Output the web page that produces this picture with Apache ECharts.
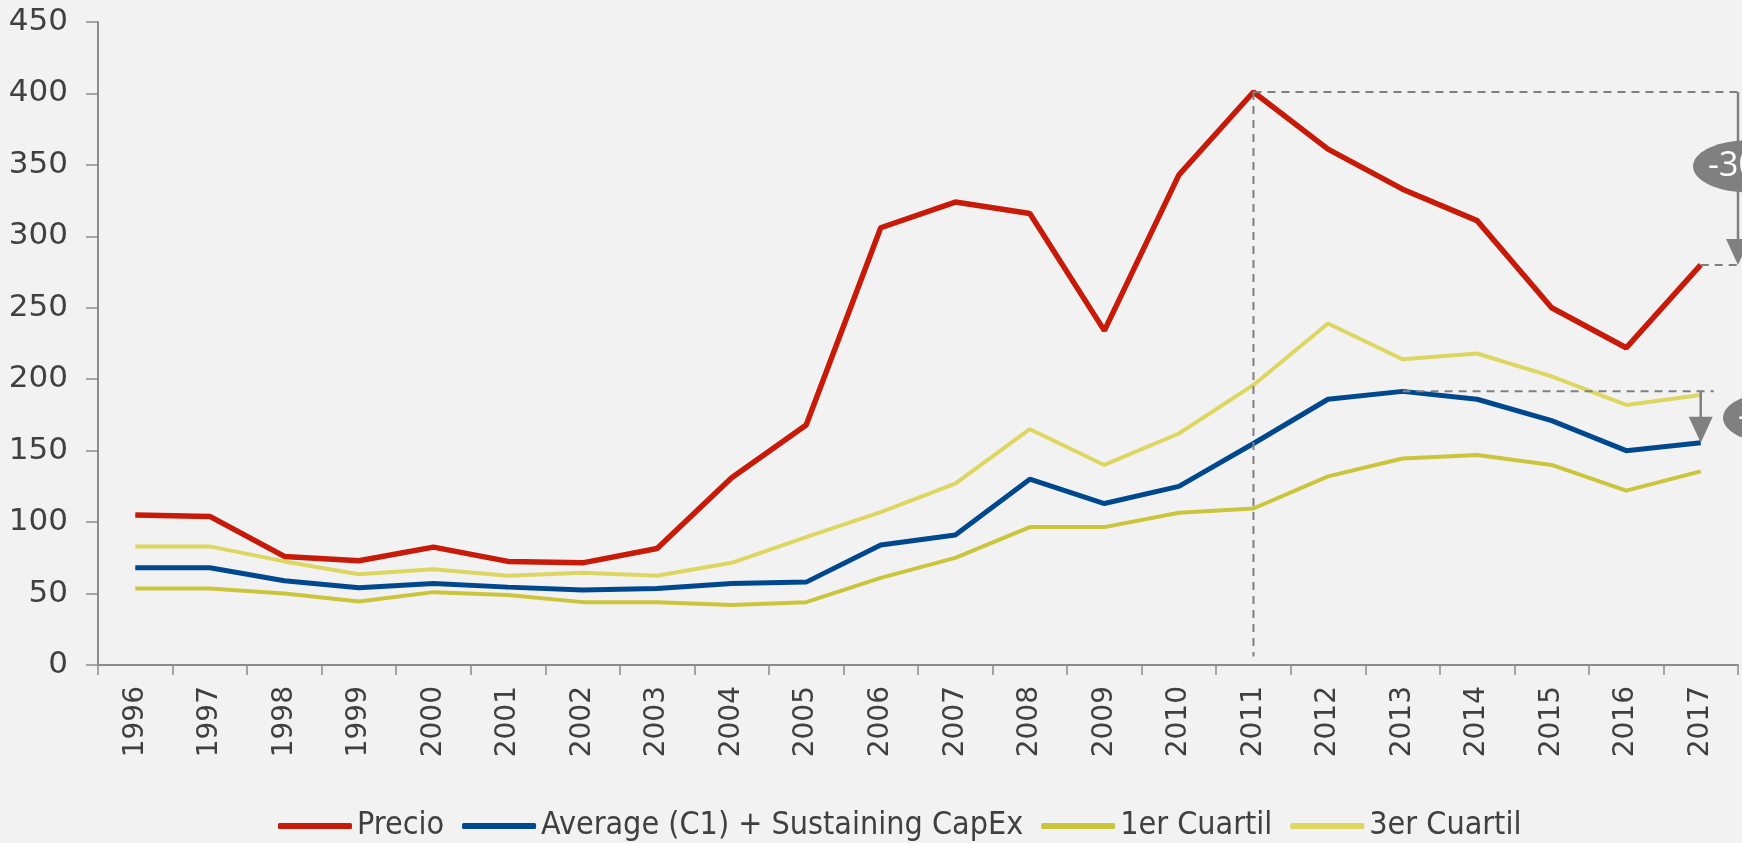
<!DOCTYPE html>
<html>
<head>
<meta charset="utf-8">
<script src="https://cdn.jsdelivr.net/npm/echarts@6/dist/echarts.min.js"></script>
<style>
  html, body { margin: 0; padding: 0; background: #f2f2f2; }
  .kk { width: 1742px; height: 843px; }
</style>
</head>
<body>
<div class="kk"></div>
<script>
var years = ['1996', '1997', '1998', '1999', '2000', '2001', '2002', '2003', '2004', '2005', '2006',
    '2007', '2008', '2009', '2010', '2011', '2012', '2013', '2014', '2015', '2016', '2017'];
var precio = [105, 104, 76, 73, 82.5, 72.5, 71.5, 81.5, 131, 168, 306, 324, 316, 234, 343, 401, 361, 333, 311, 250, 222, 280];
var average = [68, 68, 59, 54, 57, 54.5, 52.5, 53.5, 57, 58, 84, 91, 130, 113, 125, 155, 186, 191.5, 186, 171, 150, 155.5];
var cuartil1 = [53.5, 53.5, 50, 44.5, 51, 49, 44, 44, 42, 44, 61, 75, 96.5, 96.5, 106.5, 109.5, 132, 144.5, 147, 140, 122, 135.5];
var cuartil3 = [83, 83, 72.5, 63.5, 67, 62.5, 64.5, 62.5, 71.5, 89.5, 107, 127, 165, 140, 162, 196, 239, 214, 218, 202, 182, 189];
var yTicks = [0, 450, 50];

(function(){
    var mychart = echarts.init(document.querySelector(".kk"))
    var textColor = '#404040';
    var axisGray = '#8c8c8c';
    var annoGray = '#808080';
    var legendFont = '"Liberation Sans Narrow", "DejaVu Sans Condensed", "Noto Sans", sans-serif';

    var option = {
        backgroundColor: '#f2f2f2',
        animation: false,
        grid: {
            left: 98,
            top: 22,
            right: 4,
            bottom: 178
        },
        legend: {
            top: 810,
            left: 278,
            padding: 0,
            itemWidth: 74,
            itemHeight: 6,
            itemGap: 18,
            icon: 'roundRect',
            textStyle: {
                color: textColor,
                fontSize: 32,
                fontFamily: legendFont
            },
            data: ['Precio', 'Average (C1) + Sustaining CapEx', '1er Cuartil', '3er Cuartil']
        },
        xAxis: {
            type: 'category',
            data: years,
            boundaryGap: true,
            axisLine: { lineStyle: { color: axisGray, width: 2 } },
            axisTick: { show: true, length: 10, lineStyle: { color: axisGray, width: 1.5 } },
            axisLabel: {
                rotate: 90,
                margin: 21,
                color: textColor,
                fontSize: 28,
                fontFamily: 'DejaVu Sans',
                interval: 0
            },
            splitLine: { show: false }
        },
        yAxis: {
            type: 'value',
            min: yTicks[0],
            max: yTicks[1],
            interval: yTicks[2],
            axisLine: { show: true, lineStyle: { color: axisGray, width: 2 } },
            axisTick: { show: true, length: 12, lineStyle: { color: axisGray, width: 1.5 } },
            axisLabel: {
                margin: 30,
                color: textColor,
                fontSize: 31,
                fontFamily: 'DejaVu Sans'
            },
            splitLine: { show: false }
        },
        series: [
            {
                name: '3er Cuartil',
                type: 'line',
                data: cuartil3,
                symbol: 'none',
                color: '#ddd660',
                lineStyle: { width: 4 }
            },
            {
                name: '1er Cuartil',
                type: 'line',
                data: cuartil1,
                symbol: 'none',
                color: '#cac53a',
                lineStyle: { width: 4 }
            },
            {
                name: 'Average (C1) + Sustaining CapEx',
                type: 'line',
                data: average,
                symbol: 'none',
                color: '#00488e',
                lineStyle: { width: 5 }
            },
            {
                name: 'Precio',
                type: 'line',
                data: precio,
                symbol: 'none',
                color: '#c81a08',
                lineStyle: { width: 5.5 }
            }
        ]
    };
    mychart.setOption(option);

    // annotation: dashed guides, arrows and % bubbles (partly cut by the right edge)
    var px = function(x, y) {
        return mychart.convertToPixel({ xAxisIndex: 0, yAxisIndex: 0 }, [x, y]);
    };
    var W = mychart.getWidth();
    var peak = px('2011', precio[15]);
    var last = px('2017', precio[21]);
    var avgPeak = px('2013', average[17]);
    var avgLast = px('2017', average[21]);
    var floor = px('2011', 6);
    var gridRight = W - 4;

    var dash = function(x1, y1, x2, y2) {
        return {
            type: 'line',
            shape: { x1: x1, y1: y1, x2: x2, y2: y2 },
            style: { stroke: annoGray, lineWidth: 2, lineDash: [8, 6] },
            z: 5
        };
    };
    var arrow = function(x, yTop, yBot) {
        return [{
            type: 'line',
            shape: { x1: x, y1: yTop, x2: x, y2: yBot - 20 },
            style: { stroke: annoGray, lineWidth: 2.5 },
            z: 6
        }, {
            type: 'polygon',
            shape: { points: [[x - 12, yBot - 26], [x + 12, yBot - 26], [x, yBot]] },
            style: { fill: annoGray },
            z: 6
        }];
    };
    var bubble = function(cx, cy, txt) {
        return {
            type: 'group',
            z: 7,
            children: [{
                type: 'ellipse',
                shape: { cx: cx, cy: cy, rx: 54, ry: 26 },
                style: { fill: annoGray }
            }, {
                type: 'text',
                x: cx,
                y: cy,
                style: {
                    text: txt,
                    fill: '#ffffff',
                    font: '34px "Open Sans", sans-serif',
                    align: 'center',
                    verticalAlign: 'middle'
                }
            }]
        };
    };

    var graphics = [
        dash(peak[0], peak[1], W, peak[1]),
        dash(peak[0], peak[1], peak[0], floor[1]),
        dash(last[0], last[1], W, last[1]),
        dash(avgPeak[0], avgPeak[1], avgLast[0] + 13, avgPeak[1])
    ];
    graphics = graphics.concat(arrow(gridRight, peak[1], last[1]));
    graphics = graphics.concat(arrow(avgLast[0], avgPeak[1], avgLast[1]));
    graphics.push(bubble(1747, px('2017', 349)[1], '-30%'));
    graphics.push(bubble(1777, px('2017', 173)[1], '-19%'));

    mychart.setOption({ graphic: graphics });
})();
</script>
</body>
</html>
